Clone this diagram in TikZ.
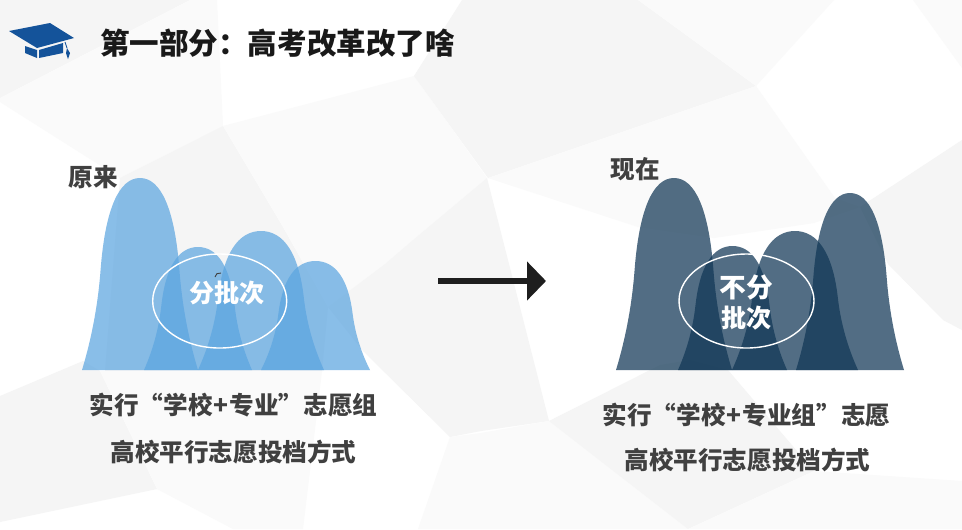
\documentclass[tikz,border=0pt]{standalone}
\usepackage{fontspec}
\usepackage{tikz}
\usetikzlibrary{arrows.meta}
\newfontfamily\cjk{Noto Sans CJK SC}
\definecolor{hillblue}{RGB}{92, 165, 224}
\definecolor{hilldark}{RGB}{16, 54, 85}
\definecolor{capblue}{RGB}{20, 83, 154}
\definecolor{textgrey}{RGB}{64, 64, 64}
\definecolor{arrowblack}{RGB}{30, 30, 30}
\definecolor{polyA}{RGB}{245, 245, 245}
\definecolor{polyB}{RGB}{250, 250, 250}
% one hill: colour, centre x, half width, height
\newcommand{\hillshape}[4]{
	\begin{scope}[shift={(#2,370)}, xscale=#3, yscale=#4]
		\fill[#1, fill opacity=0.72] (-1,0) .. controls (-0.9,-0.1) and (-0.74,-0.28) .. (-0.68,-0.52)
			.. controls (-0.6,-0.84) and (-0.36,-1) .. (0,-1)
			.. controls (0.36,-1) and (0.6,-0.84) .. (0.68,-0.52)
			.. controls (0.74,-0.28) and (0.9,-0.1) .. (1,0) -- cycle;
	\end{scope}
}
\tikzset{
	bodytext/.style={font=\cjk\bfseries\fontsize{14}{16}\selectfont, text=textgrey, inner sep=0pt},
	ringtext/.style={font=\cjk\bfseries\fontsize{14.3}{16}\selectfont, text=white, inner sep=0pt},
	ring/.style={draw=white, line width=0.8pt}
}

\begin{document}
\begin{tikzpicture}[x=0.02cm, y=-0.02cm, > = Triangle]
	\useasboundingbox (0,0) rectangle (962,529);
	\fill[white] (0,0) rectangle (962,529);

	% background polygons
	\fill[polyA] (0,0)--(190,0)--(0,98)--cycle;
	\fill[polyB] (0,98)--(190,0)--(217,0)--(223,126)--(120,178)--(0,102)--cycle;
	\fill[polyA] (223,126)--(120,178)--(105,371)--(322,371)--(328,307)--(283,227)--cycle;
	\fill[polyB] (223,126)--(414,76)--(487,178)--(413,240)--(385,264)--(328,307)--(283,227)--cycle;
	\fill[polyA] (462,0)--(638,0)--(756,86)--(488,178)--(414,76)--cycle;
	\fill[polyB] (638,0)--(834,0)--(756,86)--cycle;
	\fill[polyB] (913,0)--(962,0)--(962,68)--cycle;
	\fill[polyB] (756,86)--(488,178)--(638,227)--(714,238)--(814,223)--(860,207)--(835,198)--cycle;
	\fill[polyA] (962,140)--(860,207)--(888,264)--(943,320)--(962,330)--cycle;
	\fill[polyA] (487,178)--(509,264)--(549,421)--(481,431)--(450,437)--(363,351)--(328,307)--(385,264)--(413,240)--cycle;
	\fill[polyA] (0,396)--(83,361)--(100,371)--(157,489)--(0,522)--cycle;
	\fill[polyB] (100,371)--(322,371)--(303,529)--(233,529)--(157,489)--cycle;
	\fill[polyB] (450,437)--(481,433)--(549,421)--(688,529)--(418,529)--cycle;
	\fill[polyA] (549,421)--(660,365)--(690,360)--(728,370)--(814,471)--(688,529)--cycle;
	\fill[polyB] (814,471)--(962,481)--(962,529)--(688,529)--cycle;

	% graduation cap
	\fill[capblue] (25,46)--(37,50)--(37,58)--(25,53)--cycle;
	\fill[capblue] (39,50)--(63,43)--(63,53)--(39,58)--cycle;
	\fill[capblue] (9,31)--(50,23)--(74,38)--(37,48)--cycle;
	\draw[capblue, line width=0.5pt] (65,42)--(67,48);
	\fill[capblue] (67,48)--(70,53)--(68,59)--(66,53)--cycle;

	\node (title) [font=\cjk\bfseries\fontsize{16.8}{18}\selectfont, text=black!90, inner sep=0pt] at (277.5,43) {第一部分：高考改革改了啥};

	% hills before
	\hillshape{hillblue}{140}{58}{192}
	\hillshape{hillblue}{198}{54}{123}
	\hillshape{hillblue}{261}{63}{139}
	\hillshape{hillblue}{315.5}{54.5}{109}
	\draw[ring] (219.7,301) ellipse [x radius=67, y radius=47];
	\draw[textgrey, line width=0.5pt] (215,277) .. controls (215,274) and (218,272.5) .. (221,273);

	% hills after
	\hillshape{hilldark}{674}{58}{192}
	\hillshape{hilldark}{732.5}{54.5}{124}
	\hillshape{hilldark}{795}{63}{139}
	\hillshape{hilldark}{850}{54}{177}
	\draw[ring] (746.5,301) ellipse [x radius=67.5, y radius=47];

	% labels
	\node (before) [bodytext] at (93.5,177) {原来};
	\node (after) [bodytext] at (635.5,169) {现在};
	\node (batched) [ringtext] at (227,293) {分批次};
	\node (nobatchA) [ringtext, font=\cjk\bfseries\fontsize{15.2}{16}\selectfont] at (746.5,287) {不分};
	\node (nobatchB) [ringtext] at (746.5,318) {批次};
	\node (leftA) [bodytext] at (233.5,405) {实行“学校\kern0.6pt+\kern0.6pt专业”志愿组};
	\node (leftB) [bodytext] at (233.5,452) {高校平行志愿投档方式};
	\node (rightA) [bodytext] at (746.5,415) {实行“学校\kern0.6pt+\kern0.6pt专业组”志愿};
	\node (rightB) [bodytext] at (747.5,460) {高校平行志愿投档方式};

	% arrow
	\coordinate (arrowstart) at (438,281);
	\coordinate (arrowend) at (546,281);
	\draw[-{Triangle[length=10.8pt,width=21.6pt]}, arrowblack, line width=3.4pt] (arrowstart)--(arrowend);
\end{tikzpicture}
\end{document}
